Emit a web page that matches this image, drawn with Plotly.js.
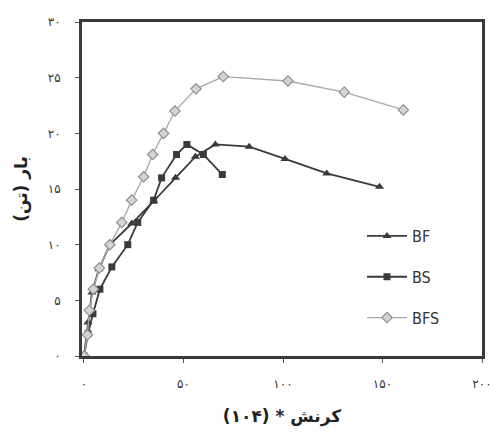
<!DOCTYPE html>
<html>
<head>
<meta charset="utf-8">
<script src="https://cdn.plot.ly/plotly-3.0.1.min.js"></script>
<style>html,body{margin:0;padding:0;background:#fff;}</style>
</head>
<body>
<div id="chart" style="width:497px;height:437px;"></div>
<script>
// Data (strain ×10^4, load in tonnes)
const bfX  = [0, 2, 4, 7.5, 13, 24, 35, 46, 56, 66, 83, 101, 122, 148.5];
const bfY  = [0, 3, 5.7, 7.8, 10, 11.9, 13.9, 16, 17.9, 19, 18.8, 17.7, 16.4, 15.2];
const bsX  = [0, 2, 4.5, 8, 14, 22, 27, 35, 39, 46.5, 51.7, 60, 69.5];
const bsY  = [0, 2, 3.8, 6, 8, 10, 12, 14, 16, 18.1, 19, 18.1, 16.3];
const bfsX = [0, 1.7, 2.7, 4.7, 7.7, 13, 19, 24, 30, 34.5, 40, 45.7, 56.3, 70, 102.5, 130.8, 160.5];
const bfsY = [0, 1.9, 4.1, 6, 7.9, 10, 12, 14, 16.1, 18.1, 20, 22, 24, 25.1, 24.7, 23.7, 22.1];
const seriesNames = ['BF', 'BS', 'BFS'];
const xTickVals = [0, 50, 100, 150, 200];
const xTickText = ['٠', '۵٠', '۱٠٠', '۱۵٠', '۲٠٠'];
const yTickVals = [0, 5, 10, 15, 20, 25, 30];
const yTickText = ['٠', '۵', '۱٠', '۱۵', '۲٠', '۲۵', '۳٠'];
const xTitle = 'کرنش * (۱٠۴)';
const yTitle = 'بار (تن)';

const traces = [
  {x: bfX, y: bfY, name: seriesNames[0], legendgroup: 'a', mode: 'lines+markers',
   line: {color: '#3a3a3a', width: 1.8},
   marker: {symbol: 'triangle-up', size: 8, color: '#3a3a3a'}},
  {x: bsX, y: bsY, name: seriesNames[1], legendgroup: 'b', mode: 'lines+markers',
   line: {color: '#3a3a3a', width: 1.8},
   marker: {symbol: 'square', size: 7, color: '#3a3a3a'}},
  {x: bfsX, y: bfsY, name: seriesNames[2], legendgroup: 'c', mode: 'lines+markers',
   line: {color: '#a8a8a8', width: 1.3},
   marker: {symbol: 'diamond', size: 8, color: '#d4d4d4', line: {color: '#8f8f8f', width: 1.2}}}
];

const layout = {
  width: 497, height: 437,
  margin: {l: 82, r: 15, t: 22, b: 81},
  paper_bgcolor: '#ffffff', plot_bgcolor: '#ffffff',
  font: {family: 'DejaVu Sans, sans-serif', color: '#333'},
  showlegend: true,
  legend: {x: 0.7, y: 0.41, xanchor: 'left', yanchor: 'top', bgcolor: 'rgba(0,0,0,0)',
           font: {size: 16, family: 'DejaVu Sans Condensed, DejaVu Sans, sans-serif', color: '#333'},
           tracegroupgap: 17, itemwidth: 40},
  xaxis: {range: [-1, 200], tickvals: xTickVals, ticktext: xTickText,
          showgrid: false, zeroline: false, showline: true, mirror: true,
          linecolor: '#3a3a3a', linewidth: 3, ticks: 'outside', ticklen: 4, tickcolor: '#555',
          ticklabelstandoff: 11,
          tickfont: {size: 12, color: '#333'},
          title: {text: xTitle, font: {size: 17, color: '#222', family: 'DejaVu Sans, sans-serif', weight: 'bold'}, standoff: 20}},
  yaxis: {range: [0, 30], tickvals: yTickVals, ticktext: yTickText,
          showgrid: false, zeroline: false, showline: true, mirror: true,
          linecolor: '#3a3a3a', linewidth: 3, ticks: 'outside', ticklen: 4, tickcolor: '#555',
          ticklabelstandoff: 12,
          tickfont: {size: 12, color: '#333'},
          title: {text: yTitle, font: {size: 17, color: '#222', family: 'DejaVu Sans, sans-serif', weight: 'bold'}, standoff: 16}}
};

Plotly.newPlot('chart', traces, layout, {staticPlot: true, displayModeBar: false});
</script>
</body>
</html>
